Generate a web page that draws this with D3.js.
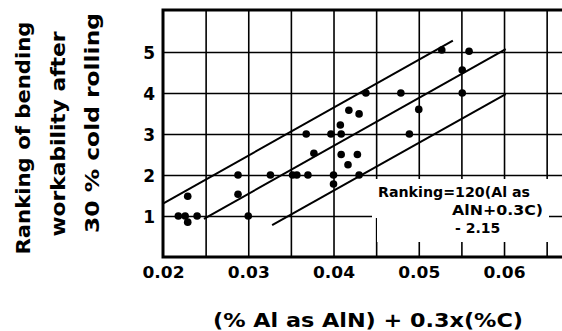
<!DOCTYPE html>
<html><head><meta charset="utf-8">
<script src="https://cdn.jsdelivr.net/npm/d3@7"></script>
<style>
html,body{margin:0;padding:0;background:#fff;}
svg{display:block;}
text{font-family:"DejaVu Sans",sans-serif;font-weight:bold;fill:#000;}
</style></head>
<body>
<svg id="c" width="562" height="331"></svg>
<script>
// ---- data ----
const pointX = [0.0218,0.0226,0.0229,0.0240,0.0229,0.0300,0.0288,0.0288,0.0326,0.0352,0.0357,0.0370,0.0400,0.0400,0.0430,
                0.0377,0.0409,0.0428,0.0417,0.0368,0.0397,0.0409,0.0408,0.0418,0.0430,0.0438,0.0479,0.0500,0.0489,
                0.0527,0.0559,0.0551,0.0551];
const pointY = [1.0,1.0,0.85,1.0,1.48,1.0,1.53,2.0,2.0,2.0,2.0,2.0,2.0,1.78,2.0,
                2.53,2.5,2.5,2.25,3.0,3.0,3.0,3.22,3.58,3.49,4.0,4.0,3.6,3.0,
                5.05,5.02,4.56,4.0];
const bandNames = ["upper","middle","lower"];
const bandX0 = [0.0200,0.0248,0.0328];
const bandY0 = [1.30,0.93,0.78];
const bandX1 = [0.0540,0.0602,0.0602];
const bandY1 = [5.28,5.07,3.97];
const yTicks = [1,2,3,4,5];
const yTickLabels = ["1","2","3","4","5"];
const xGridTicks = [0.025,0.03,0.035,0.04,0.045,0.05,0.055,0.06,0.065];
const xTicks = [0.02,0.03,0.04,0.05,0.06];
const xTickLabels = ["0.02","0.03","0.04","0.05","0.06"];
const yTitle = ["Ranking of bending","workability after","30 % cold rolling"];
const xTitle = "(% Al as AlN) + 0.3x(%C)";
const note = ["Ranking=120(Al as","AlN+0.3C)","- 2.15"];

// ---- layout ----
const svg = d3.select("#c");
const L = 163, R = 562, T = 11, B = 257;
const x = d3.scaleLinear().domain([0.02, 0.0668]).range([L, R]);
const y = d3.scaleLinear().domain([0, 6]).range([B, T]);

// vertical grid
svg.append("g").attr("transform",`translate(0,${B})`)
  .call(d3.axisBottom(x).tickValues(xGridTicks).tickSize(-(B-T)).tickFormat(""))
  .call(g=>g.select(".domain").remove())
  .call(g=>g.selectAll("line").attr("stroke","#000").attr("stroke-width",1.6));

// horizontal grid + labels
svg.append("g").attr("transform",`translate(${L},0)`)
  .call(d3.axisLeft(y).tickValues(yTicks).tickSize(-(R-L)).tickPadding(8)
        .tickFormat((d,i)=>yTickLabels[i]))
  .call(g=>g.select(".domain").remove())
  .call(g=>g.selectAll("line").attr("stroke","#000").attr("stroke-width",1.6))
  .call(g=>g.selectAll("text").attr("font-size",17).attr("dy","0.4em")
        .style("font-family","DejaVu Sans").style("font-weight","bold"));

// x tick labels
svg.append("g").attr("transform",`translate(0,${B})`)
  .call(d3.axisBottom(x).tickValues(xTicks).tickSize(0).tickPadding(10)
        .tickFormat((d,i)=>xTickLabels[i]))
  .call(g=>g.select(".domain").remove())
  .call(g=>g.selectAll("text").attr("font-size",16).attr("textLength",42).attr("lengthAdjust","spacingAndGlyphs")
        .style("font-family","DejaVu Sans").style("font-weight","bold"));

// annotation white boxes
svg.append("rect").attr("x",372).attr("y",179).attr("width",177).attr("height",36).attr("fill","#fff");
svg.append("rect").attr("x",372).attr("y",214).attr("width",5).attr("height",4).attr("fill","#fff");
svg.append("rect").attr("x",377).attr("y",214).attr("width",172).attr("height",28).attr("fill","#fff");

// frame
svg.append("path").attr("d",`M${R},${T-1}H${L}V${B}H${R}`)
  .attr("fill","none").attr("stroke","#000").attr("stroke-width",3);

// band lines
svg.append("g").selectAll("line").data(bandNames).join("line")
  .attr("x1",(d,i)=>x(bandX0[i])).attr("y1",(d,i)=>y(bandY0[i]))
  .attr("x2",(d,i)=>x(bandX1[i])).attr("y2",(d,i)=>y(bandY1[i]))
  .attr("stroke","#000").attr("stroke-width",2);

// points
svg.append("g").selectAll("circle").data(pointX).join("circle")
  .attr("cx",d=>x(d)).attr("cy",(d,i)=>y(pointY[i])).attr("r",3.8).attr("fill","#000");

// annotation text
svg.append("text").attr("x",530).attr("y",197).attr("text-anchor","end").attr("font-size",14)
  .attr("textLength",152).attr("lengthAdjust","spacingAndGlyphs").text(note[0]);
svg.append("text").attr("x",543).attr("y",215).attr("text-anchor","end").attr("font-size",14)
  .attr("textLength",91).attr("lengthAdjust","spacingAndGlyphs").text(note[1]);
svg.append("text").attr("x",455).attr("y",233).attr("font-size",14).text(note[2]);

// y title
const yc = [[23,138,233],[58,134,205],[92,123,220]];
yTitle.forEach((t,i)=>{
  svg.append("text").attr("transform",`translate(${yc[i][0]},${yc[i][1]}) rotate(-90)`)
    .attr("text-anchor","middle").attr("dominant-baseline","central")
    .attr("font-size",19).attr("textLength",yc[i][2]).attr("lengthAdjust","spacingAndGlyphs").text(t);
});
// x title
svg.append("text").attr("x",368).attr("y",327).attr("text-anchor","middle")
  .attr("font-size",20).attr("textLength",310).attr("lengthAdjust","spacingAndGlyphs").text(xTitle);
</script>
</body></html>
